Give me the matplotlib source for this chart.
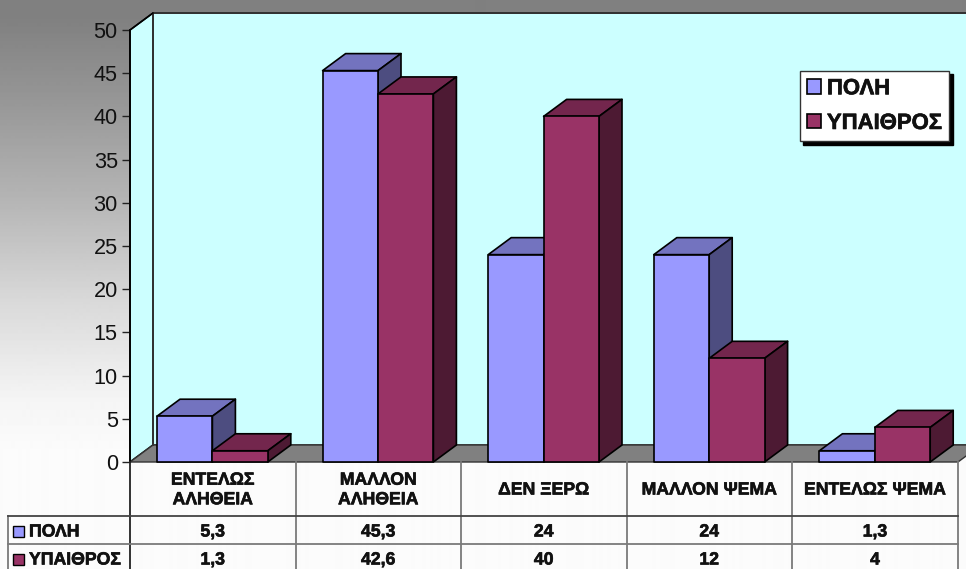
import numpy as np
import matplotlib
matplotlib.use("Agg")
import matplotlib.pyplot as plt
import matplotlib.patheffects as pe
from matplotlib.patches import Polygon, Rectangle, Patch

categories = ["ΕΝΤΕΛΩΣ\nΑΛΗΘΕΙΑ", "ΜΑΛΛΟΝ\nΑΛΗΘΕΙΑ", "ΔΕΝ ΞΕΡΩ", "ΜΑΛΛΟΝ ΨΕΜΑ", "ΕΝΤΕΛΩΣ ΨΕΜΑ"]
series_names = ["ΠΟΛΗ", "ΥΠΑΙΘΡΟΣ"]
poli = [5.3, 45.3, 24, 24, 1.3]
ypaithros = [1.3, 42.6, 40, 12, 4]
poli_labels = ["5,3", "45,3", "24", "24", "1,3"]
ypaithros_labels = ["1,3", "42,6", "40", "12", "4"]
yticks = list(range(0, 55, 5))

plt.rcParams["font.family"] = "Liberation Sans"
W, H = 966, 569
fig = plt.figure(figsize=(W / 100, H / 100), dpi=100)

bg = fig.add_axes([0, 0, 1, 1], zorder=0)
bg.set_axis_off()
py = np.arange(H)
grad = np.interp(py, [0, 15, 100, 200, 300, 400, 450, 569],
                 [0.5, 0.5, 0.59, 0.71, 0.85, 0.96, 0.985, 0.985]).reshape(-1, 1)
bg.imshow(grad, cmap="gray", vmin=0, vmax=1, aspect="auto", extent=[0, 1, 0, 1], origin="upper")

x0, x1, y0, y1 = 130, 958, 462, 30
ax = fig.add_axes([x0 / W, (H - y0) / H, (x1 - x0) / W, (y0 - y1) / H], zorder=1)
ax.patch.set_alpha(0)
ax.set_xlim(0, 5)
ax.set_ylim(0, 50)
for s in ["top", "right", "bottom"]:
    ax.spines[s].set_visible(False)
ax.spines["left"].set_linewidth(1.2)
ax.spines["left"].set_color("black")
ax.set_xticks([])
ax.set_yticks(yticks)
ax.tick_params(axis="y", labelsize=15.6, length=5.8, width=1, color="#222222", pad=3, labelcolor="#111111")

dx = 23 / 165.6
dy = 17 / 8.64
WALL, FLOOR = "#CCFFFF", "#808080"
EDGE = "#333333"


def poly(pts, fc, ec="black", lw=1.2, z=2):
    ax.add_patch(Polygon(pts, closed=True, fc=fc, ec=ec, lw=lw, zorder=z, clip_on=False, joinstyle="round"))


xr = 5 + dx + 0.1
poly([(dx, dy), (xr, dy), (xr, 50 + dy), (dx, 50 + dy)], WALL, EDGE, 1.2, 1)
poly([(0, 0), (dx, dy), (dx, 50 + dy), (0, 50)], WALL, "black", 1.2, 1)
poly([(0, 0), (5, 0), (5 + dx, dy), (dx, dy)], FLOOR, "#333333", 1.0, 1.5)
ax.plot([dx, xr], [50 + dy, 50 + dy], color=EDGE, lw=1.4, zorder=1.6, clip_on=False)
ax.plot([dx, dx], [dy, 50 + dy], color=EDGE, lw=1.4, zorder=1.6, clip_on=False)
ax.plot([0, dx], [50, 50 + dy], color="black", lw=1.0, zorder=1.6, clip_on=False)

bw = 55.4 / 165.6
start = 27 / 165.6
palette = [("#9999FF", "#7373BF", "#4D4D80"), ("#993366", "#73264D", "#4D1A33")]
for s, vals in enumerate([poli, ypaithros]):
    front, top, side = palette[s]
    for i, v in enumerate(vals):
        l = i + start + s * bw
        r = l + bw
        z = 3 + i + s * 0.1
        poly([(l, v), (r, v), (r + dx, v + dy), (l + dx, v + dy)], top, z=z)
        poly([(r, 0), (r + dx, dy), (r + dx, v + dy), (r, v)], side, z=z)
        poly([(l, 0), (r, 0), (r, v), (l, v)], front, z=z + 0.01)

heavy = [pe.withStroke(linewidth=0.45, foreground="#111111")]

# legend
handles = [Patch(fc=palette[i][0], ec="black", lw=1.2, label=series_names[i]) for i in range(2)]
leg = ax.legend(handles=handles, loc="upper left", bbox_to_anchor=(800 / W, 1 - 71 / H),
                bbox_transform=fig.transFigure, frameon=True, fancybox=False,
                framealpha=1, edgecolor="#333333", facecolor="white", borderaxespad=0,
                borderpad=0.33, labelspacing=0.62, handlelength=0.62, handleheight=0.62, handletextpad=0.27,
                prop={"weight": "bold", "size": 15.9, "family": "Liberation Sans"},
                shadow={"color": "black", "alpha": 1, "ox": 2.4, "oy": -2.4})
for t in leg.get_texts():
    t.set_color("#111111")
    t.set_path_effects(heavy)
leg.set_zorder(50)

# data table
tab = fig.add_axes([0, 0, 1, 1], zorder=2)
tab.set_axis_off()
tab.patch.set_alpha(0)
tab.set_xlim(0, W)
tab.set_ylim(H, 0)
cols = [130, 295.5, 461, 626.5, 792, 958]
rows = [462, 516, 544, 572]
GL = "#7a7a7a"
for c in cols[1:]:
    tab.plot([c, c], [rows[0], rows[-1]], color=GL, lw=1.3)
tab.plot([cols[0], cols[0]], [rows[0], rows[-1]], color="#222222", lw=1.3)
tab.plot([8, 8], [rows[1], rows[-1]], color=GL, lw=1.3)
tab.plot([8, cols[-1]], [rows[1], rows[1]], color="#444444", lw=1.3)
tab.plot([8, cols[-1]], [rows[2], rows[2]], color=GL, lw=1.3)
tkw = dict(ha="center", va="center", fontsize=12.7, fontweight="bold", color="#111111", path_effects=heavy)
for i in range(5):
    cx = (cols[i] + cols[i + 1]) / 2
    tab.text(cx, 490, categories[i], linespacing=1.2, **tkw)
    tab.text(cx, 532, poli_labels[i], **tkw)
    tab.text(cx, 560, ypaithros_labels[i], **tkw)
for i, y in enumerate([532, 560]):
    tab.add_patch(Rectangle((12.5, y - 6), 11, 11, fc=palette[i][0], ec="black", lw=1))
    tab.text(29, y, series_names[i], ha="left", va="center", fontsize=12.7, fontweight="bold",
             color="#111111", path_effects=heavy)

fig.savefig("out.png", dpi=100)
